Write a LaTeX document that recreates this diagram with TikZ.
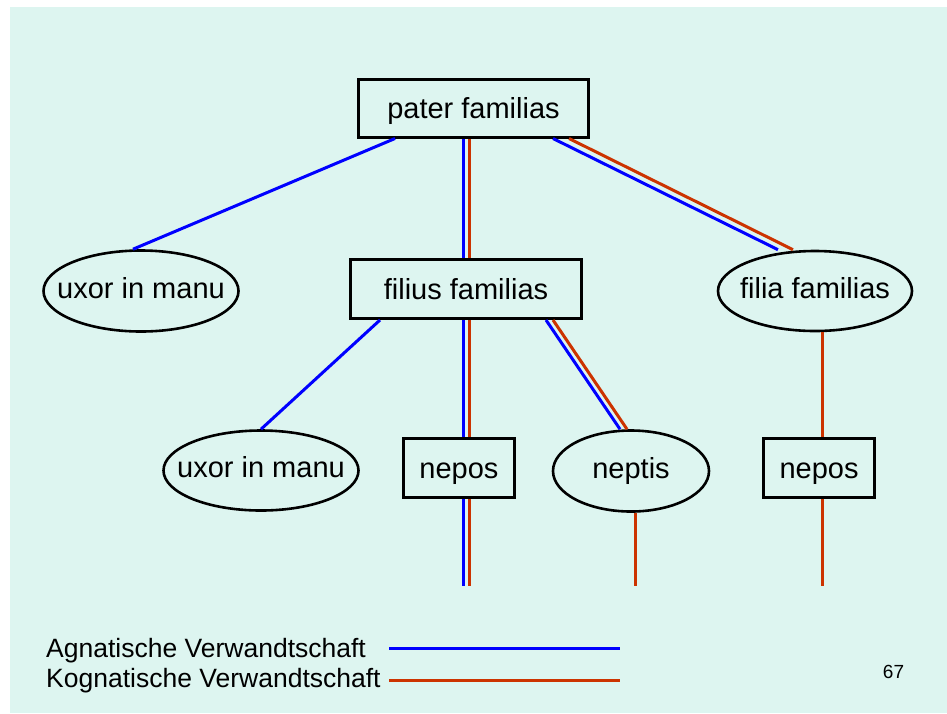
\documentclass[tikz,border=0pt]{standalone}
\usepackage{fontspec}
\setmainfont{Liberation Sans}
\usepackage{tikz}
\usetikzlibrary{shapes.geometric}
\definecolor{bgmint}{HTML}{DDF5F0}
\definecolor{kogred}{HTML}{CC3300}
\tikzset{
  famtext/.style={inner sep=0pt,text height=23pt,text depth=2pt,font=\fontsize{29}{34}\selectfont},
  fambox/.style={famtext,draw,rectangle,line width=3pt},
  famell/.style={famtext,draw,ellipse,inner xsep=-20pt,text height=19pt,text depth=5pt,line width=2.6pt},
  agn/.style={draw=blue,line width=3pt},
  kog/.style={draw=kogred,line width=3pt},
  legtext/.style={inner sep=0pt,anchor=base west,font=\fontsize{26.5}{30}\selectfont}
}

\begin{document}
\begin{tikzpicture}[x=1pt,y=-1pt]
\useasboundingbox (0,0) rectangle (947,713);
\fill[bgmint] (10,7) rectangle (947,713);

% family tree
\node[fambox,minimum width=230pt,minimum height=58pt] (pater) at (473.5,108) {pater familias};
\node[famell,minimum width=195pt,minimum height=81pt] (uxorA) at (141,291) {uxor in manu};
\node[fambox,minimum width=231pt,minimum height=59pt] (filius) at (466,289) {filius familias};
\node[famell,minimum width=194pt,minimum height=80pt] (filia) at (815,291) {filia familias};
\node[famell,minimum width=195pt,minimum height=80pt] (uxorB) at (261,470.5) {uxor in manu};
\node[fambox,minimum width=111pt,minimum height=59pt] (neposA) at (459,467.5) {nepos};
\node[famell,minimum width=156pt,minimum height=81pt] (neptis) at (631,471) {neptis};
\node[fambox,minimum width=111pt,minimum height=59pt] (neposB) at (819,467.5) {nepos};
\coordinate (stubend) at (0,586);

% agnatic and cognatic lines
\draw[agn] ([xshift=38pt]pater.south west) -- ([xshift=-8pt]uxorA.north);
\draw[agn] ([xshift=-3pt]filius.north |- pater.south) -- ([xshift=-3pt]filius.north);
\draw[kog] ([xshift=3pt]filius.north |- pater.south) -- ([xshift=3pt]filius.north);
\draw[agn] ([xshift=-37pt]pater.south east) -- ([xshift=-37pt]filia.north);
\draw[kog] ([xshift=-21pt]pater.south east) -- ([xshift=-22pt]filia.north);
\draw[agn] ([xshift=31pt]filius.south west) -- (uxorB.north);
\draw[agn] ([xshift=-3pt]filius.south) -- ([xshift=-3pt]filius.south |- neposA.north);
\draw[kog] ([xshift=3pt]filius.south) -- ([xshift=3pt]filius.south |- neposA.north);
\draw[agn] ([xshift=-37pt]filius.south east) -- ([xshift=-11pt]neptis.north);
\draw[kog] ([xshift=-30pt]filius.south east) -- ([xshift=-4pt]neptis.north);
\draw[kog] ([xshift=3pt]neposB.north |- filia.south) -- ([xshift=3pt]neposB.north);
\draw[agn] ([xshift=-3pt]filius.south |- neposA.south) -- ([xshift=-3pt]filius.south |- stubend);
\draw[kog] ([xshift=3pt]filius.south |- neposA.south) -- ([xshift=3pt]filius.south |- stubend);
\draw[kog] ([xshift=4pt]neptis.south) -- ([xshift=4pt]neptis.south |- stubend);
\draw[kog] ([xshift=3pt]neposB.south) -- ([xshift=3pt]neposB.south |- stubend);

% legend
\node[legtext] (agnleg) at (46,657) {Agnatische Verwandtschaft};
\node[legtext] (kogleg) at (46,687) {Kognatische Verwandtschaft};
\coordinate (agnA) at (389,648);
\coordinate (agnB) at (620,648);
\coordinate (kogA) at (389,680);
\coordinate (kogB) at (620,680);
\draw[agn] (agnA) -- (agnB);
\draw[kog] (kogA) -- (kogB);
\node[inner sep=0pt,anchor=base,font=\fontsize{19}{22}\selectfont] (pagenum) at (893.5,678.7) {67};
\end{tikzpicture}
\end{document}
